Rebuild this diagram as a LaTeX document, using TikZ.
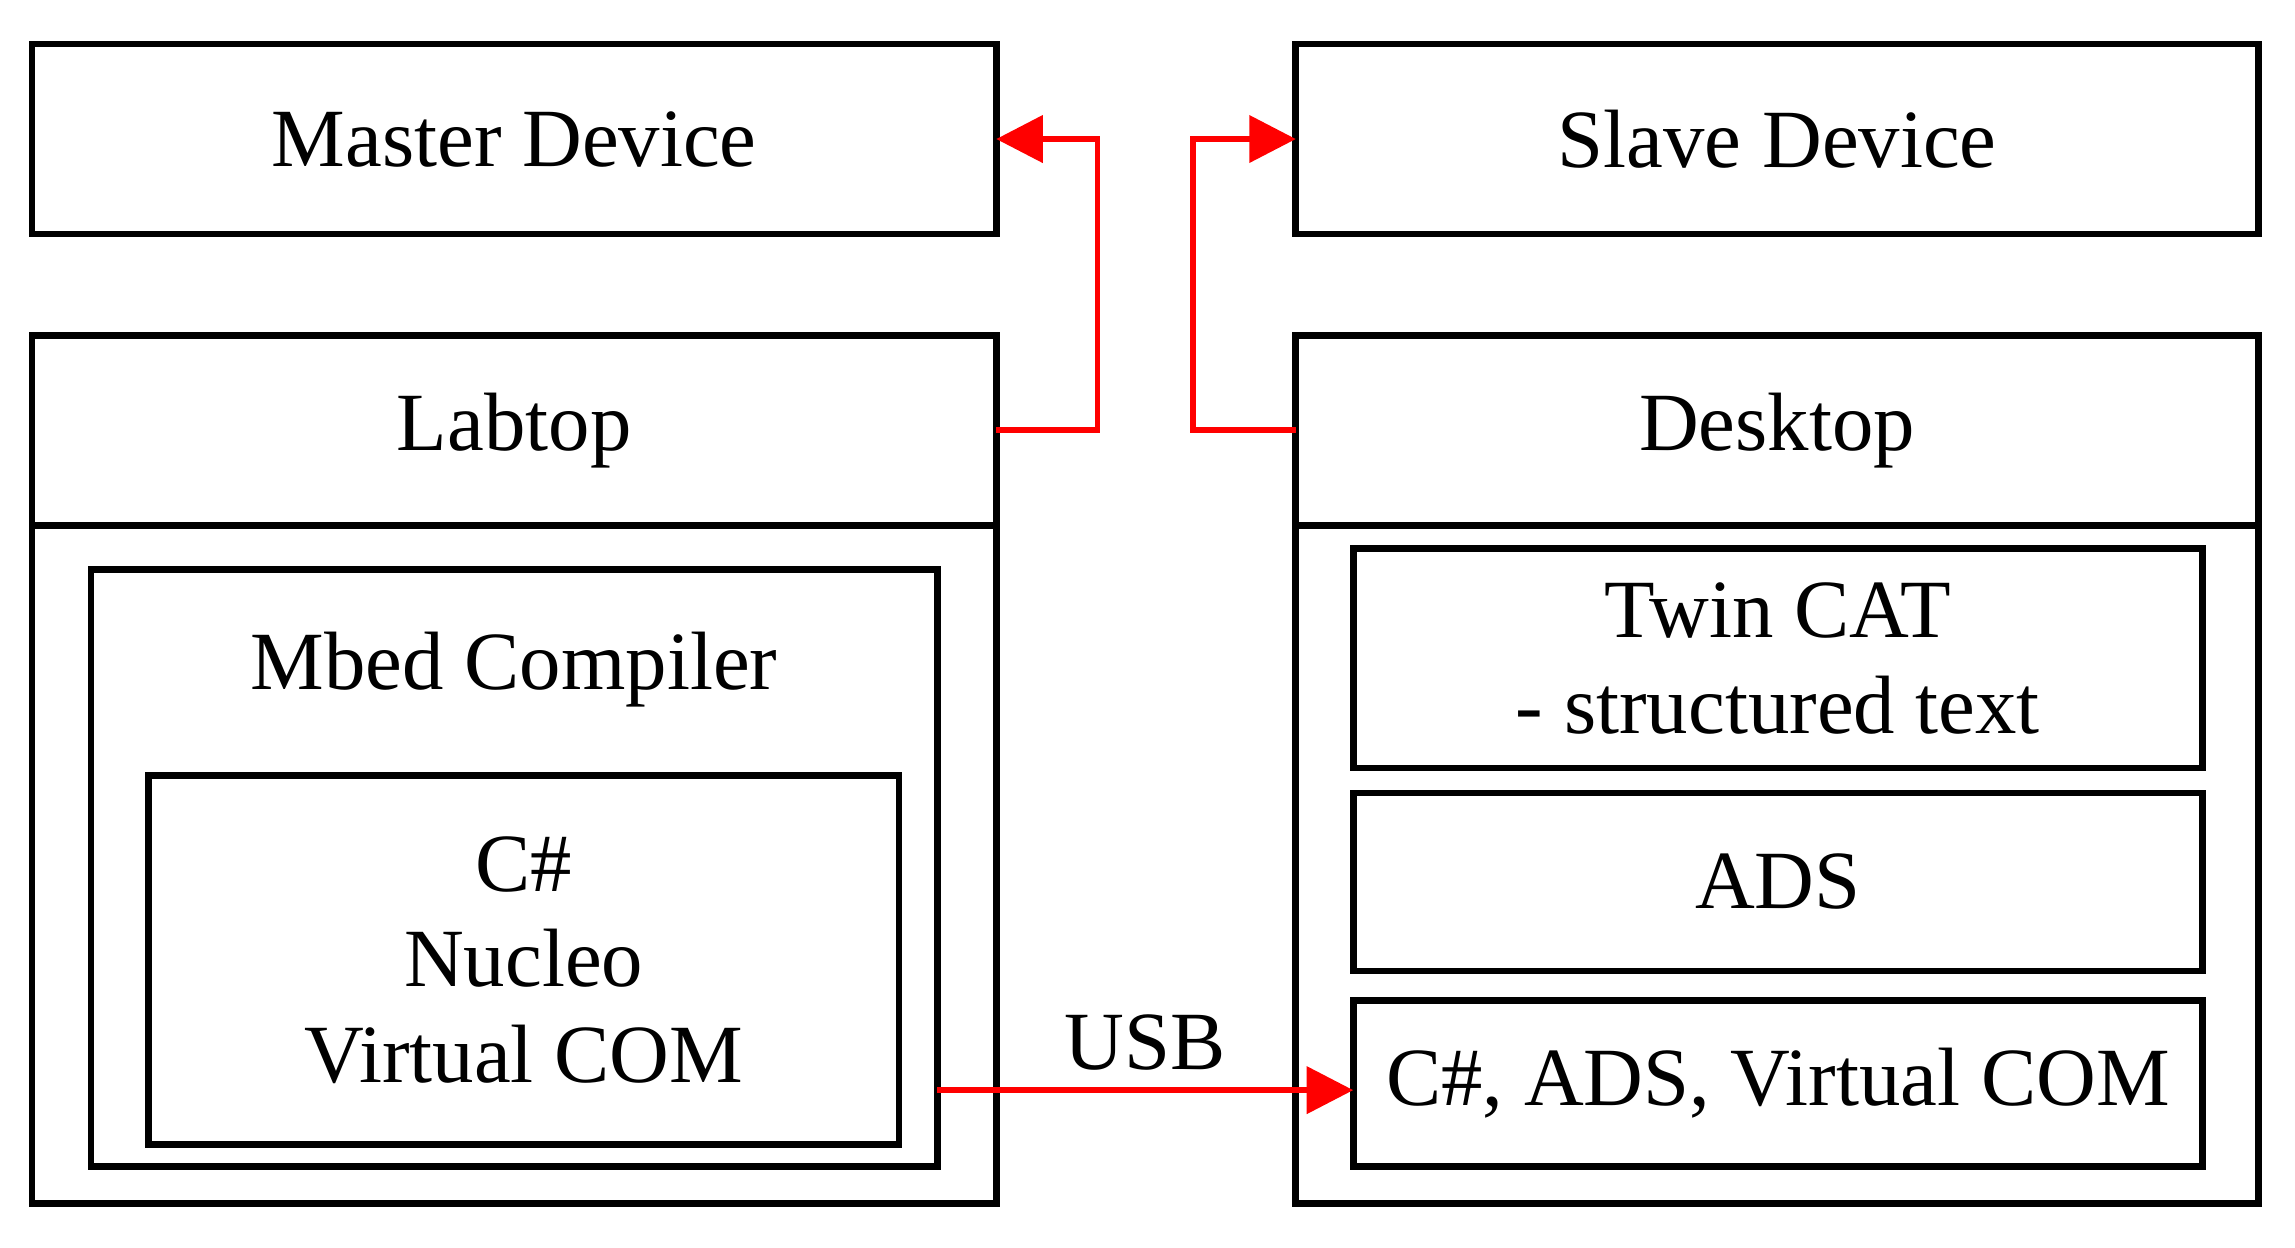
\documentclass[tikz,border=0pt]{standalone}
\usepackage{fontspec}
\setmainfont{Liberation Serif}
\usetikzlibrary{arrows.meta, positioning}
\tikzset{box/.style={draw, line width=1.3pt, inner sep=0pt, outer sep=0pt, align=center, font=\fontsize{16}{18.5}\selectfont},
  link/.style={draw=red, line width=1.1pt, -{Triangle[length=9pt,width=9pt]}}}
\begin{document}
\begin{tikzpicture}[x=0.01cm, y=-0.01cm]
        \useasboundingbox (0,0) rectangle (1560,848);
        % Top devices
        \node[box, minimum width=6.55cm, minimum height=1.29cm] (master) at (349.5,94.5) {Master Device};
        \node[box, minimum width=6.54cm, minimum height=1.29cm] (slave) at (1208,94.5) {Slave Device};

        % Computers
        \node[box, minimum width=6.55cm, minimum height=5.90cm] (labtop) at (349.5,523) {};
        \node[box, minimum width=6.55cm, minimum height=1.29cm] (labhead) at (349.5,292.5) {Labtop};
        \node[box, minimum width=6.54cm, minimum height=5.90cm] (desktop) at (1208,523) {};
        \node[box, minimum width=6.54cm, minimum height=1.29cm] (deskhead) at (1208,292.5) {Desktop};

        % Labtop content
        \node[box, minimum width=5.75cm, minimum height=4.06cm] (mbed) at (349.5,590) {};
        \node[font=\fontsize{16}{18.5}\selectfont] (mbedlbl) at (349.5,455) {Mbed Compiler};
        \node[box, minimum width=5.10cm, minimum height=2.51cm] (nucleo) at (356,652.5) {C\#\\Nucleo\\Virtual COM};

        % Desktop content
        \node[box, minimum width=5.77cm, minimum height=1.49cm] (twincat) at (1208.5,447.5) {Twin CAT\\- structured text};
        \node[box, minimum width=5.77cm, minimum height=1.21cm] (ads) at (1208.5,599.5) {ADS};
        \node[box, minimum width=5.77cm, minimum height=1.13cm] (csads) at (1208.5,736.5) {C\#, ADS, Virtual COM};

        % Links
        \draw[link] (labhead.east) -| (746,94.5) -- (master.east);
        \draw[link] (deskhead.west) -| (811,94.5) -- (slave.west);
        \draw[link] (mbed.east |- 0,741) -- (csads.west |- 0,741) node[midway, above, font=\fontsize{16}{18.5}\selectfont] {USB};
\end{tikzpicture}
\end{document}
